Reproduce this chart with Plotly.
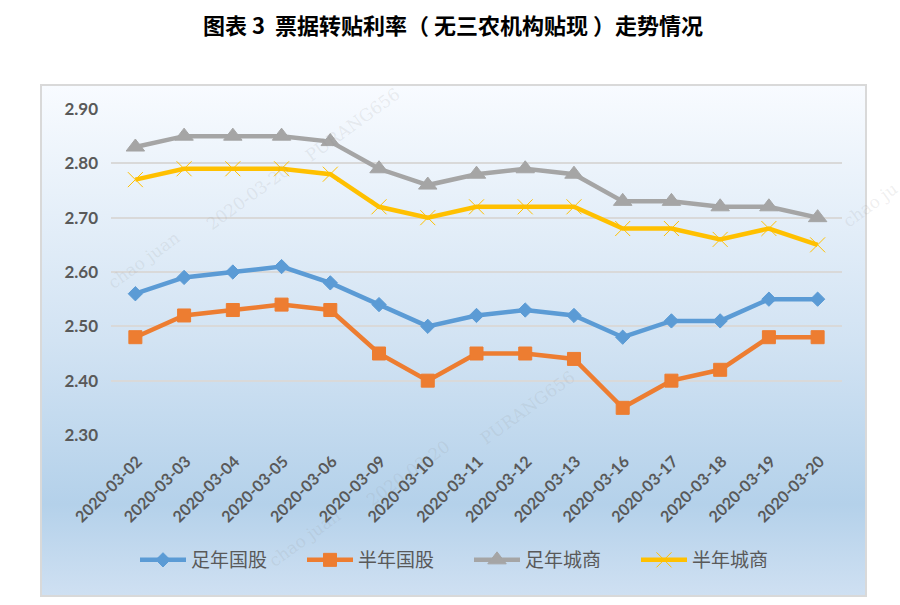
import base64
import plotly.graph_objects as go

dates = ['2020-03-02', '2020-03-03', '2020-03-04', '2020-03-05', '2020-03-06',
         '2020-03-09', '2020-03-10', '2020-03-11', '2020-03-12', '2020-03-13',
         '2020-03-16', '2020-03-17', '2020-03-18', '2020-03-19', '2020-03-20']
zu_guogu = [2.56, 2.59, 2.60, 2.61, 2.58, 2.54, 2.50, 2.52, 2.53, 2.52, 2.48, 2.51, 2.51, 2.55, 2.55]
ban_guogu = [2.48, 2.52, 2.53, 2.54, 2.53, 2.45, 2.40, 2.45, 2.45, 2.44, 2.35, 2.40, 2.42, 2.48, 2.48]
zu_chengshang = [2.83, 2.85, 2.85, 2.85, 2.84, 2.79, 2.76, 2.78, 2.79, 2.78, 2.73, 2.73, 2.72, 2.72, 2.70]
ban_chengshang = [2.77, 2.79, 2.79, 2.79, 2.78, 2.72, 2.70, 2.72, 2.72, 2.72, 2.68, 2.68, 2.66, 2.68, 2.65]
y_ticks = [2.3, 2.4, 2.5, 2.6, 2.7, 2.8, 2.9]

# plot area in pixels
L, R, T, B = 111, 842, 109, 435
W, H = 900, 605
TEXT = '#595959'
CJK = 'Noto Sans CJK SC'


# pixel position -> paper coordinates
def px(x):
    return (x - L) / (R - L)


def py(y):
    return (B - y) / (B - T)


# chart box background gradient
svg = ('<svg xmlns="http://www.w3.org/2000/svg" width="825" height="511" preserveAspectRatio="none">'
       '<defs><linearGradient id="g" x1="0" y1="0" x2="0" y2="1">'
       '<stop offset="0" stop-color="#f8fbff"/><stop offset="0.5" stop-color="#d2e3f3"/>'
       '<stop offset="0.82" stop-color="#b4d1ea"/><stop offset="1" stop-color="#cfe0f2"/>'
       '</linearGradient></defs><rect width="825" height="511" fill="url(#g)"/></svg>')
bg = 'data:image/svg+xml;base64,' + base64.b64encode(svg.encode()).decode()

fig = go.Figure()
series = [
    ('足年国股', zu_guogu, '#5b9bd5', 'diamond', 11),
    ('半年国股', ban_guogu, '#ed7d31', 'square', 13),
    ('足年城商', zu_chengshang, '#a5a5a5', 'triangle-up', 16),
    ('半年城商', ban_chengshang, '#ffc000', 'x-thin', 15),
]
for name, vals, col, sym, size in series:
    fig.add_trace(go.Scatter(x=dates, y=vals, name=name, mode='lines+markers',
                             line=dict(color=col, width=4.5),
                             marker=dict(color=col, symbol=sym, size=size,
                                         line=dict(color=col, width=1))))

fig.update_layout(
    width=W, height=H, autosize=False,
    margin=dict(l=L, r=W - R, t=T, b=H - B),
    paper_bgcolor='white', plot_bgcolor='rgba(0,0,0,0)',
    title=dict(text='<b>图表 3  票据转贴利率（ 无三农机构贴现 ）走势情况</b>',
               x=453 / W, xanchor='center', y=1 - 26 / H, yanchor='middle',
               font=dict(family=CJK, size=22, color='black')),
    xaxis=dict(type='category', range=[-0.5, 14.5], tickangle=-45, showgrid=False,
               showline=False, ticks='', zeroline=False, ticklabelstandoff=13, ticklabelshift=2,
               tickfont=dict(family='Lato', size=16, color=TEXT, weight='bold')),
    yaxis=dict(range=[2.3, 2.9], tickvals=y_ticks, tickformat='.2f', gridcolor='#d9d9d9',
               gridwidth=2, zeroline=False, showline=False, ticks='', ticklabelstandoff=12,
               tickfont=dict(family='Lato', size=17, color=TEXT, weight='bold')),
    legend=dict(orientation='h', x=px(135), xanchor='left', y=py(560), yanchor='middle',
                bgcolor='rgba(0,0,0,0)', itemwidth=46,
                entrywidth=106, entrywidthmode='pixels',
                font=dict(family=CJK, size=19, color=TEXT)),
    showlegend=True,
)

fig.add_layout_image(dict(source=bg, xref='paper', yref='paper', x=px(41), y=py(85),
                          sizex=px(866) - px(41), sizey=py(85) - py(596),
                          sizing='stretch', xanchor='left', yanchor='top', layer='below'))
fig.add_shape(type='rect', xref='paper', yref='paper', x0=px(41), x1=px(866), y0=py(596), y1=py(85),
              line=dict(color='#d9d9d9', width=2), layer='below')

# faint watermarks
marks = [('chao juan', 144, 260), ('2020-03-20', 248, 197), ('PURANG656', 352, 125),
         ('chao ju', 870, 205), ('PURANG656', 527, 408), ('2020-03-20', 408, 473),
         ('chao juan', 305, 538)]
for text, mx, my in marks:
    fig.add_annotation(text=text, xref='paper', yref='paper', x=px(mx), y=py(my), showarrow=False,
                       textangle=-36, xanchor='center', yanchor='middle',
                       font=dict(family='DejaVu Serif', size=17, color='rgba(140,140,140,0.14)'))

fig.write_html("out.html", config=dict(displayModeBar=False),
               post_script="document.body.style.margin='0';")
